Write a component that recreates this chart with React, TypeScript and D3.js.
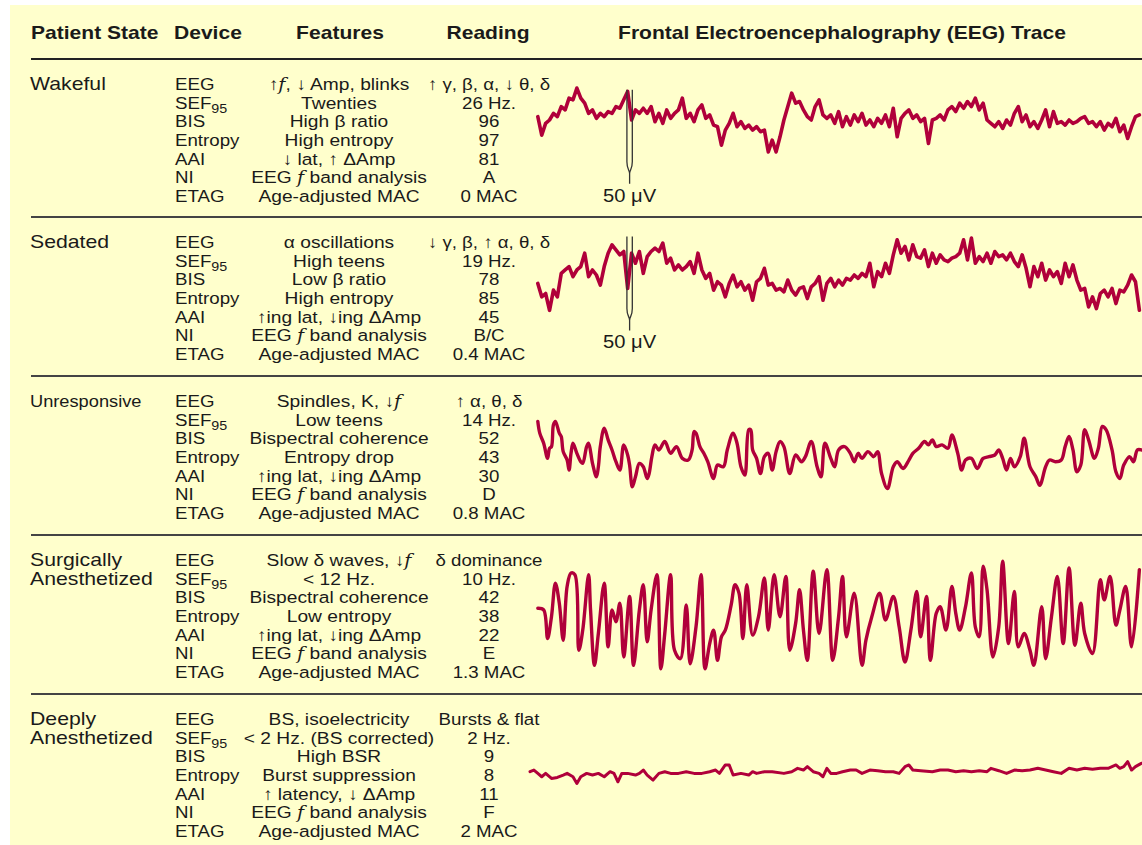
import React from "react";
import * as d3 from "d3";

const W = 1142;
const H = 845;

// ---------- table text ----------
const headers = ["Patient State", "Device", "Features", "Reading", "Frontal Electroencephalography (EEG) Trace"];
const states = [["Wakeful"], ["Sedated"], ["Unresponsive"], ["Surgically", "Anesthetized"], ["Deeply", "Anesthetized"]];
const devices = ["EEG", "SEF|95", "BIS", "Entropy", "AAI", "NI", "ETAG"];
const features = [
  ["↑ƒ, ↓ Amp, blinks", "Twenties", "High β ratio", "High entropy", "↓ lat, ↑ ΔAmp", "EEG ƒ band analysis", "Age-adjusted MAC"],
  ["α oscillations", "High teens", "Low β ratio", "High entropy", "↑ing lat, ↓ing ΔAmp", "EEG ƒ band analysis", "Age-adjusted MAC"],
  ["Spindles, K, ↓ƒ", "Low teens", "Bispectral coherence", "Entropy drop", "↑ing lat, ↓ing ΔAmp", "EEG ƒ band analysis", "Age-adjusted MAC"],
  ["Slow δ waves, ↓ƒ", "< 12 Hz.", "Bispectral coherence", "Low entropy", "↑ing lat, ↓ing ΔAmp", "EEG ƒ band analysis", "Age-adjusted MAC"],
  ["BS, isoelectricity", "< 2 Hz. (BS corrected)", "High BSR", "Burst suppression", "↑ latency, ↓ ΔAmp", "EEG ƒ band analysis", "Age-adjusted MAC"],
];
const readings = [
  ["↑ γ, β, α, ↓ θ, δ", "26 Hz.", "96", "97", "81", "A", "0 MAC"],
  ["↓ γ, β, ↑ α, θ, δ", "19 Hz.", "78", "85", "45", "B/C", "0.4 MAC"],
  ["↑ α, θ, δ", "14 Hz.", "52", "43", "30", "D", "0.8 MAC"],
  ["δ dominance", "10 Hz.", "42", "38", "22", "E", "1.3 MAC"],
  ["Bursts & flat", "2 Hz.", "9", "8", "11", "F", "2 MAC"],
];

// ---------- EEG traces (µV) ----------
// regularly sampled traces: sample i at time t = 2 + i
const wakefulTrace = [2,-9,-2,0,4,2,8,6,13,12,19,13,10,4,6,1,4,2,5,4,8,7,12,17,0,6,4,7,4,8,-1,4,-2,6,1,4,6,13,1,4,-1,6,9,1,3,-3,-4,-15,-6,-2,4,-4,-1,-5,-3,-6,-4,-7,-6,-19,-12,-19,-10,0,8,16,10,11,6,2,0,8,12,3,1,3,-2,5,-4,2,-3,3,-1,4,-3,0,-4,1,-2,3,-4,7,-10,1,4,6,1,3,-1,1,-14,0,1,3,0,6,8,5,10,7,11,8,13,6,10,0,-2,-4,-1,-5,0,-3,4,8,-1,3,-4,-1,-5,0,6,-4,5,-2,-1,-3,0,-2,-1,1,2,-2,-1,-4,-1,-6,-2,-4,1,-7,-3,-11,-4,2,3];
const sedatedTrace = [-4,-12,-10,-20,-8,-12,2,4,6,0,4,6,14,0,4,1,-5,6,14,19,16,13,15,-7,14,8,15,2,12,15,17,15,20,8,11,4,7,4,6,9,2,14,4,-1,2,-8,-3,-5,-12,-4,1,-6,-3,-8,-5,-14,-3,-1,5,-5,-4,-8,-7,-9,-2,-8,-11,-7,-6,-13,-6,-4,0,-14,-4,-1,-6,-2,-5,-1,-2,1,-1,2,0,8,-6,3,0,8,2,13,22,14,18,10,19,12,11,16,6,14,8,13,10,9,11,12,14,22,10,23,8,12,9,14,8,15,12,13,10,14,9,6,13,5,-6,6,0,8,-2,4,0,3,-4,8,0,7,-2,-8,-7,-18,-12,-19,-10,-8,-12,-7,-16,-8,-9,-5,1,-3,-20];
// irregular turning points: [t, µV]
const unresponsiveTrace: [number, number][] = [[2,20],[2.5,13],[3.5,7],[4.5,-2],[5,4],[5.5,5],[6,18],[6.5,20],[7.5,13],[8,11],[8.5,2],[9.5,-3],[10,-9],[10.5,1],[11,7],[12,1],[13,-4],[13.5,-5],[14.5,5],[15,7],[16,-5],[17,-13],[17.5,-7],[18,5],[19,16],[20,9],[21,3],[22,-4],[23,-9],[24,6],[25,0],[25.5,-6],[26.2,-19],[27,-13],[28,-5],[29,-7],[30,-14],[30.5,-11],[31.2,-1],[32,6],[33,3],[34.5,8],[36,1],[37.5,5],[39,-2],[40.5,-3],[41.5,3],[42,14],[42.5,13],[43.5,5],[44.5,1],[45.5,-4],[47,-14],[48,-6],[49.5,-7],[50.5,3],[52,13],[53,7],[54,-7],[55,-12],[56,15],[56.5,15],[57,3],[58,-2],[59,-11],[60,-1],[61,1],[62,-9],[63,2],[64,8],[65,5],[66.5,-11],[68,0],[69.5,-4],[70.5,-1],[72,8],[73.5,-7],[74.5,-13],[75.5,7],[77,-2],[78,-7],[79,3],[80.5,5],[82,1],[83,-4],[84,1],[85,-2],[86.5,2],[88,-1],[89,2],[90,-11],[91.5,-20],[93,-7],[94,-4],[95.5,-8],[97,-3],[98,1],[99.5,4],[101,8],[102,6],[103,9],[104,5],[105.5,6],[107,4],[108,12],[109.5,1],[110.5,-9],[111.5,-3],[113,-2],[114.5,-8],[116,-2],[117.5,-1],[119,0],[120,3],[121,-2],[122,-9],[123,-2],[124,-7],[125.5,-1],[126.5,10],[128,-7],[129.5,-13],[130.5,-18],[132,-7],[133,-3],[134.5,-4],[136,-3],[137,5],[138,11],[139,3],[140,-10],[141,-6],[142,15],[143,9],[144.5,-2],[145.5,4],[146.5,17],[147.5,15],[149,3],[150,-10],[151,-14],[152,-6],[153.5,-1],[154.5,-4],[155.5,3],[156.5,3]];
const surgicalTrace: [number, number][] = [[2,4],[3.5,3],[4.5,-14],[5.5,-1],[6.5,19],[7.5,7],[8.5,-15],[9.5,17],[10.5,25],[11.5,24],[12.5,-21],[13.5,-9],[15,24],[15.5,3],[16.5,-30],[17.5,-11],[19,19],[20,-19],[21,3],[22,-4],[23,7],[24,-25],[25.5,11],[26.5,-30],[28,3],[29,18],[30,-16],[31,3],[32.5,24],[33.5,-32],[34.5,-11],[36,24],[37,-21],[38.5,-26],[40,6],[41,-29],[42.5,-7],[43.8,24],[44.8,-32],[46,-17],[47,-9],[48,-27],[49,-13],[50,-9],[51.5,6],[52.5,18],[53.5,13],[54.5,-14],[55.5,18],[57,-12],[58.5,-1],[60,22],[61,-9],[62.5,24],[64,-1],[65.5,23],[66.5,-21],[68,-5],[69,15],[70,-9],[71,-27],[72.5,26],[74,-11],[76,27],[77.5,-27],[79,-1],[80,23],[81,-13],[83,13],[85,-30],[86,-15],[87.5,-1],[89.5,13],[91,-3],[93,11],[94.5,-7],[96,-28],[97.5,-9],[99,14],[100,-13],[101.5,11],[102.5,-27],[104,1],[105,5],[106.5,-9],[108,17],[109,1],[110,-9],[111.5,5],[113,25],[114,-7],[115,-13],[116,29],[117,15],[118.5,-25],[120,-7],[121,32],[122.5,-17],[124,14],[125,-19],[126.5,-11],[128,-21],[129,-30],[131,5],[132,-26],[133.5,-1],[135,23],[136.5,-17],[138,28],[139.5,-18],[141,7],[142,-11],[144,-23],[146,21],[147,9],[148.5,23],[150,-6],[151,3],[152.5,17],[154,-19],[156,27]];
const deepTrace: [number, number][] = [[0,0],[1,1],[2,-1],[3,-3],[4,-1],[5.5,-4],[7,-3.4],[8.5,-2],[9.5,-1],[11,-3],[12,-7],[13,-3],[14.5,-1],[16,-2],[17.5,-1],[19,-3],[20.5,0],[21.5,-1],[22.5,-6],[23.5,-1],[25,-1],[27,-2],[28,-1],[29,1],[30,-2],[31.5,-5],[33,-1],[34.5,0],[36,-1],[38,-1],[40,0],[42,-1],[44,-1],[46,0],[47.5,1],[48.5,-1],[50,4],[51,4],[52,-2],[54,-1],[56,-2],[57,0],[58,-1],[60,0],[62,0],[65,-1],[67,0],[68.5,2],[70,1],[71,3],[72.5,0],[74,-1],[75,-3],[76,2],[77,-1],[78.5,-1],[80,0],[82,1],[83.5,1],[85,-1],[87,1],[89,0.6],[91,0],[93,0],[94.5,-1],[96,3],[97,4],[98,1],[100,0.6],[103,0],[105,1],[107,1],[109,0],[111,0.6],[113,0],[115,0.6],[117,0],[118,2],[120,0.6],[122,-1],[124,1],[126,0.6],[128,1],[130,2],[132,1],[134,0],[136,-1],[138,2],[140,1],[142,2],[144,1.4],[146,2],[148,2],[150,4],[151,2],[152,3],[153,6],[154,1],[155,3],[156.5,5]];

const calibrationUV = 50;
const calibrationT = 25.5;
const calibrationTops = [18, 24]; // µV at bar top, wakeful & sedated

// ---------- layout ----------
const FONT = "'Liberation Sans', Arial, Helvetica, sans-serif";
const INK = "#1a1a1a";
const TRACE = "#B0003A";
const blockTops = [59, 217, 376, 535, 694];
const traceCenters = [61, 59.7, 79, 80, 77.7];
const ROW = 18.65;
const PX_PER_UV = 1.68;

const toPairs = (vals: number[]): [number, number][] => vals.map((v, i) => [2 + i, v]);
const traces: { data: [number, number][]; curve: any; width: number }[] = [
  { data: toPairs(wakefulTrace), curve: d3.curveLinear, width: 3.6 },
  { data: toPairs(sedatedTrace), curve: d3.curveLinear, width: 3.6 },
  { data: unresponsiveTrace, curve: d3.curveCatmullRom.alpha(0.5), width: 3.4 },
  { data: surgicalTrace, curve: d3.curveCatmullRom.alpha(0.5), width: 3.4 },
  { data: deepTrace, curve: d3.curveLinear, width: 3 },
];

const x = d3.scaleLinear().domain([0, 156.8]).range([530, 1142.5]);

function Txt(props: any) {
  const { x, y, size, sx = 1, anchor = "start", weight = "normal", children } = props;
  return (
    <text transform={`translate(${x},${y}) scale(${sx},1)`} fontSize={size} fontWeight={weight}
      textAnchor={anchor} fill={INK} fontFamily={FONT}>{children}</text>
  );
}

function rich(s: string) {
  const parts = s.split("ƒ");
  const out: any[] = [];
  parts.forEach((p, i) => {
    if (i > 0) out.push(<tspan key={"f" + i} fontFamily="'DejaVu Serif', 'Liberation Serif', serif" fontStyle="italic">f</tspan>);
    if (p) out.push(<tspan key={"p" + i}>{p}</tspan>);
  });
  return out;
}

function device(s: string) {
  if (s.includes("|")) {
    const [a, b] = s.split("|");
    return [<tspan key="a">{a}</tspan>, <tspan key="b" fontSize={13} dy={4}>{b}</tspan>];
  }
  return s;
}

export default function App() {
  return (
    <svg width={W} height={H} style={{ position: "absolute", left: 0, top: 0, background: "#fff" }}>
      <rect x={10} y={5} width={W - 10} height={H - 5} fill="#FFFFCC" />
      {/* headers */}
      <Txt x={31} y={39} size={18} sx={1.17} weight="bold">{headers[0]}</Txt>
      <Txt x={174} y={39} size={18} sx={1.17} weight="bold">{headers[1]}</Txt>
      <Txt x={340} y={39} size={18} sx={1.17} weight="bold" anchor="middle">{headers[2]}</Txt>
      <Txt x={488} y={39} size={18} sx={1.17} weight="bold" anchor="middle">{headers[3]}</Txt>
      <Txt x={842} y={39} size={18} sx={1.17} weight="bold" anchor="middle">{headers[4]}</Txt>
      <line x1={31} x2={W} y1={59} y2={59} stroke="#222" strokeWidth={2.2} />
      {blockTops.slice(1).map((t, i) => (
        <line key={i} x1={31} x2={W} y1={t} y2={t} stroke="#444" strokeWidth={1.8} />
      ))}
      {states.map((lines, b) => {
        const base = blockTops[b] + 31;
        const small = lines[0] === "Unresponsive";
        const c = blockTops[b] + traceCenters[b];
        const y = d3.scaleLinear().domain([-calibrationUV, calibrationUV]).range([c + calibrationUV * PX_PER_UV, c - calibrationUV * PX_PER_UV]);
        const tr = traces[b];
        const line = d3.line<[number, number]>().x((d) => x(d[0])).y((d) => y(d[1])).curve(tr.curve);
        const hasCal = b < 2;
        let cal = null;
        if (hasCal) {
          const cx = x(calibrationT);
          const y0 = y(calibrationTops[b]);
          const yb = y(calibrationTops[b] - calibrationUV);
          const x1 = cx - 2.7, x2 = cx + 2.7;
          const p = `M${x1},${y0} V${yb - 12} C${x1},${yb - 4} ${cx},${yb - 4} ${cx},${yb} M${x2},${y0} V${yb - 12} C${x2},${yb - 4} ${cx},${yb - 4} ${cx},${yb} M${cx},${yb} V${yb + 10}`;
          cal = (
            <g>
              <path d={p} fill="none" stroke="#333" strokeWidth={1.3} />
              <Txt x={cx} y={yb + 28} size={18} sx={1.12} anchor="middle">50 μV</Txt>
            </g>
          );
        }
        return (
          <g key={b}>
            {lines.map((l, k) => (
              <Txt key={k} x={30} y={base + k * 19} size={small ? 16 : 18} sx={small ? 1.14 : 1.18}>{l}</Txt>
            ))}
            {devices.map((d, r) => (
              <Txt key={"d" + r} x={175} y={base + r * ROW} size={17} sx={1.1}>{device(d)}</Txt>
            ))}
            {features[b].map((f, r) => (
              <Txt key={"f" + r} x={339} y={base + r * ROW} size={17} sx={1.13} anchor="middle">{rich(f)}</Txt>
            ))}
            {readings[b].map((f, r) => (
              <Txt key={"r" + r} x={489} y={base + r * ROW} size={17} sx={1.1} anchor="middle">{f}</Txt>
            ))}
            <path d={line(tr.data) || ""} fill="none" stroke={TRACE} strokeWidth={tr.width} strokeLinejoin="round" strokeLinecap="round" />
            {cal}
          </g>
        );
      })}
    </svg>
  );
}
